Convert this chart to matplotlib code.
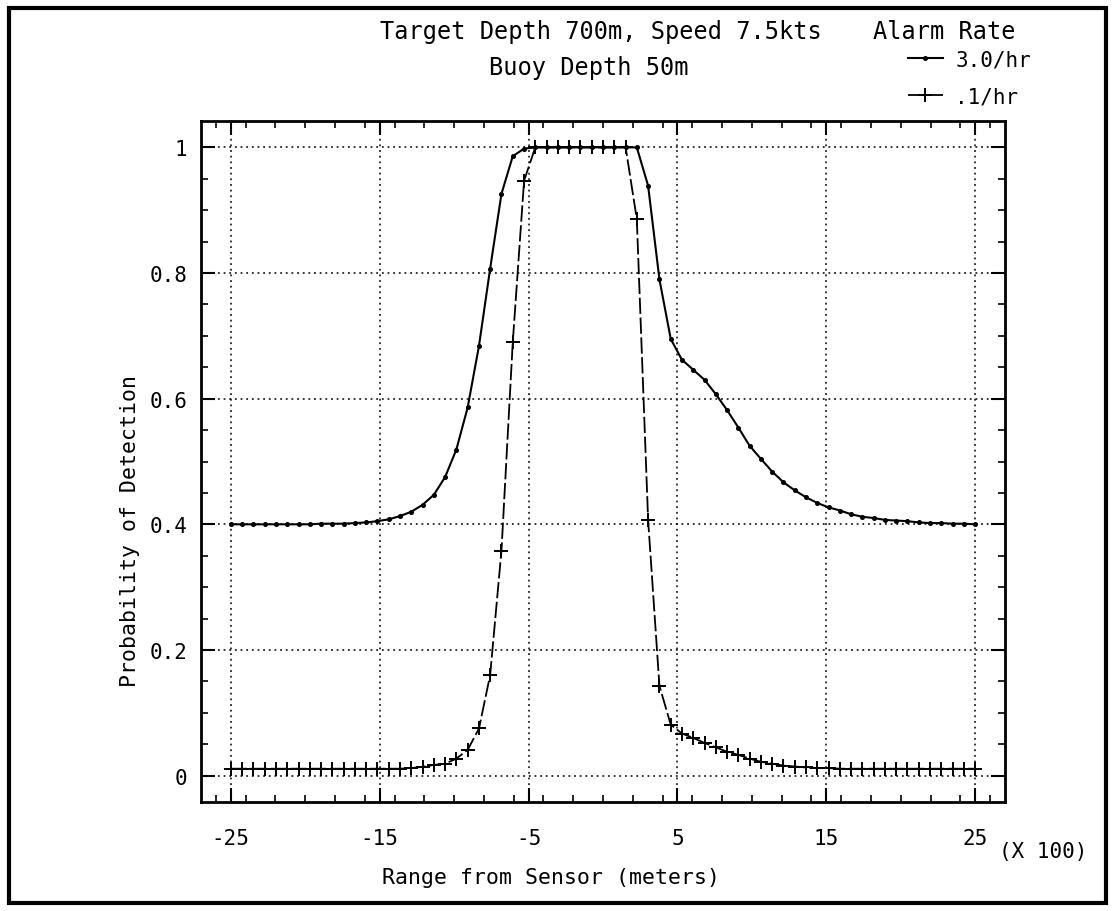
import matplotlib
matplotlib.use("Agg")
import matplotlib.pyplot as plt
from matplotlib.patches import Rectangle
from matplotlib.ticker import MultipleLocator, FixedLocator

plt.rcParams['font.family'] = ['DejaVu Sans Mono', 'DejaVu Sans']

# Range from sensor (x 100 m)
range_x = [-25.00, -24.24, -23.48, -22.73, -21.97, -21.21, -20.45, -19.70, -18.94, -18.18,
           -17.42, -16.67, -15.91, -15.15, -14.39, -13.64, -12.88, -12.12, -11.36, -10.61,
           -9.85, -9.09, -8.33, -7.58, -6.82, -6.06, -5.30, -4.55, -3.79, -3.03,
           -2.27, -1.52, -0.76, 0.00, 0.76, 1.52, 2.27, 3.03, 3.79, 4.55,
           5.30, 6.06, 6.82, 7.58, 8.33, 9.09, 9.85, 10.61, 11.36, 12.12,
           12.88, 13.64, 14.39, 15.15, 15.91, 16.67, 17.42, 18.18, 18.94, 19.70,
           20.45, 21.21, 21.97, 22.73, 23.48, 24.24, 25.00]

# Alarm rate 3.0/hr
pd_3_0 = [0.400, 0.400, 0.400, 0.400, 0.400, 0.400, 0.400, 0.400, 0.401, 0.401,
          0.401, 0.402, 0.403, 0.405, 0.408, 0.413, 0.420, 0.431, 0.447, 0.475,
          0.519, 0.586, 0.684, 0.807, 0.926, 0.986, 0.998, 1.000, 1.000, 1.000,
          1.000, 1.000, 1.000, 1.000, 1.000, 1.000, 1.000, 0.939, 0.790, 0.695,
          0.662, 0.646, 0.630, 0.607, 0.582, 0.554, 0.525, 0.504, 0.484, 0.467,
          0.454, 0.443, 0.434, 0.427, 0.422, 0.416, 0.412, 0.410, 0.407, 0.406,
          0.405, 0.403, 0.402, 0.402, 0.401, 0.401, 0.400]

# Alarm rate .1/hr
pd_0_1 = [0.011, 0.011, 0.011, 0.011, 0.011, 0.011, 0.011, 0.011, 0.011, 0.011,
          0.011, 0.011, 0.011, 0.011, 0.011, 0.011, 0.012, 0.014, 0.017, 0.019,
          0.027, 0.041, 0.075, 0.160, 0.358, 0.690, 0.947, 1.000, 1.000, 1.000,
          1.000, 1.000, 1.000, 1.000, 1.000, 1.000, 0.886, 0.407, 0.143, 0.081,
          0.067, 0.060, 0.052, 0.045, 0.038, 0.033, 0.027, 0.022, 0.019, 0.016,
          0.0145, 0.013, 0.012, 0.012, 0.011, 0.011, 0.011, 0.011, 0.011, 0.011,
          0.011, 0.011, 0.011, 0.011, 0.011, 0.011, 0.011]

x_ticks = [-25, -15, -5, 5, 15, 25]
x_ticklabels = ['-25', '-15', '-5', '5', '15', '25']
y_ticks = [0, 0.2, 0.4, 0.6, 0.8, 1.0]
y_ticklabels = ['0', '0.2', '0.4', '0.6', '0.8', '1']

W, H = 1116, 912
fig = plt.figure(figsize=(W / 100, H / 100), dpi=100)
ax = fig.add_axes([201 / W, 1 - 803 / H, (1005 - 201) / W, (803 - 122) / H])

line1, = ax.plot(range_x, pd_3_0, color='black', lw=1.5, marker='o', ms=2.6,
                 label='3.0/hr')
line2, = ax.plot(range_x, pd_0_1, color='black', lw=1.3, ls=(0, (9, 2)),
                 marker='+', ms=10, mew=1.4, label='.1/hr')

ax.set_xlim(-27, 27)
ax.set_ylim(-0.042, 1.042)
ax.xaxis.set_major_locator(FixedLocator(x_ticks))
ax.set_xticklabels(x_ticklabels)
ax.xaxis.set_minor_locator(MultipleLocator(2))
ax.yaxis.set_major_locator(FixedLocator(y_ticks))
ax.set_yticklabels(y_ticklabels)
ax.yaxis.set_minor_locator(MultipleLocator(0.05))

ax.tick_params(which='both', direction='in', top=True, right=True,
               colors='black', labelsize=15)
ax.tick_params(which='major', length=10, width=1.5)
ax.tick_params(which='minor', length=5, width=1.2)
ax.tick_params(axis='x', which='major', pad=19)
ax.tick_params(axis='y', which='major', pad=10)
for s in ax.spines.values():
    s.set_linewidth(2)

ax.grid(True, which='major', color='black', ls=(0, (1.2, 2.5)), lw=1.1)

ax.set_xlabel('Range from Sensor (meters)', fontsize=15.5)
ax.xaxis.set_label_coords(0.435, -0.096)
ax.set_ylabel('Probability of Detection', fontsize=15.5)
ax.yaxis.set_label_coords(-0.076, 0.40)

fig.text(601 / W, 1 - 32 / H, 'Target Depth 700m, Speed 7.5kts', fontsize=17,
         ha='center', va='center')
fig.text(589 / W, 1 - 68 / H, 'Buoy Depth 50m', fontsize=17,
         ha='center', va='center')
fig.text(944 / W, 1 - 32 / H, 'Alarm Rate', fontsize=17,
         ha='center', va='center')
fig.text(1043 / W, 1 - 852 / H, '(X 100)', fontsize=15, ha='center', va='center')

leg = fig.legend(handles=[line1, line2], loc='upper right',
                 bbox_to_anchor=(1050 / W, 1 - 32 / H), frameon=False,
                 fontsize=15, handlelength=1.7,
                 labelspacing=0.8, handletextpad=0.6, numpoints=1)

fig.patches.append(Rectangle((9 / W, 8 / H), (1106 - 9) / W, (903 - 8) / H,
                             transform=fig.transFigure, fill=False,
                             edgecolor='black', lw=3))

fig.savefig('out.png', dpi=100)
